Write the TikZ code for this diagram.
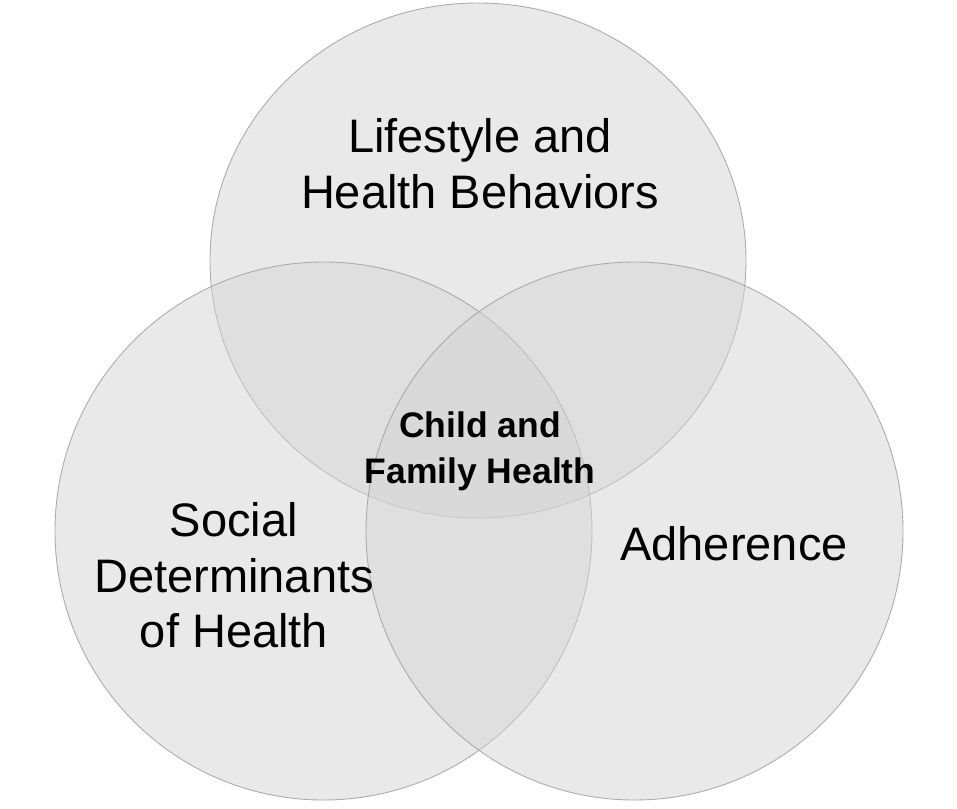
\documentclass[tikz,border=0pt]{standalone}
\usepackage{fontspec}
\usetikzlibrary{shapes.geometric}
\setmainfont{Liberation Sans}
\begin{document}
\begin{tikzpicture}[x=1pt,y=-1pt,
  venn/.style={ellipse,inner sep=0pt,
    fill={rgb,255:red,212;green,212;blue,212},fill opacity=0.5,
    draw={rgb,255:red,165;green,165;blue,165},draw opacity=0.9,line width=0.9pt},
  biglabel/.style={align=center,inner sep=0pt,text=black,font=\fontsize{47}{55.5}\selectfont},
  midlabel/.style={align=center,inner sep=0pt,text=black,font=\bfseries\fontsize{35.5}{46}\selectfont}]
\useasboundingbox (0,0) rectangle (957,808);
\node[venn,minimum width=536pt,minimum height=515pt] (top) at (478,260.5) {};
\node[venn,minimum width=537pt,minimum height=538pt] (left) at (323.5,531) {};
\node[venn,minimum width=537pt,minimum height=538pt] (right) at (634.5,531) {};
\node[biglabel] (lifestyle) at (480,163.5) {Lifestyle and\\Health Behaviors};
\node[biglabel] (social) at (234,575.5) {Social\\Determinants\\of Health};
\node[biglabel,anchor=base] (adherence) at (734,560) {Adherence};
\node[midlabel] (child) at (480,451) {Child and\\Family Health};
\end{tikzpicture}
\end{document}
